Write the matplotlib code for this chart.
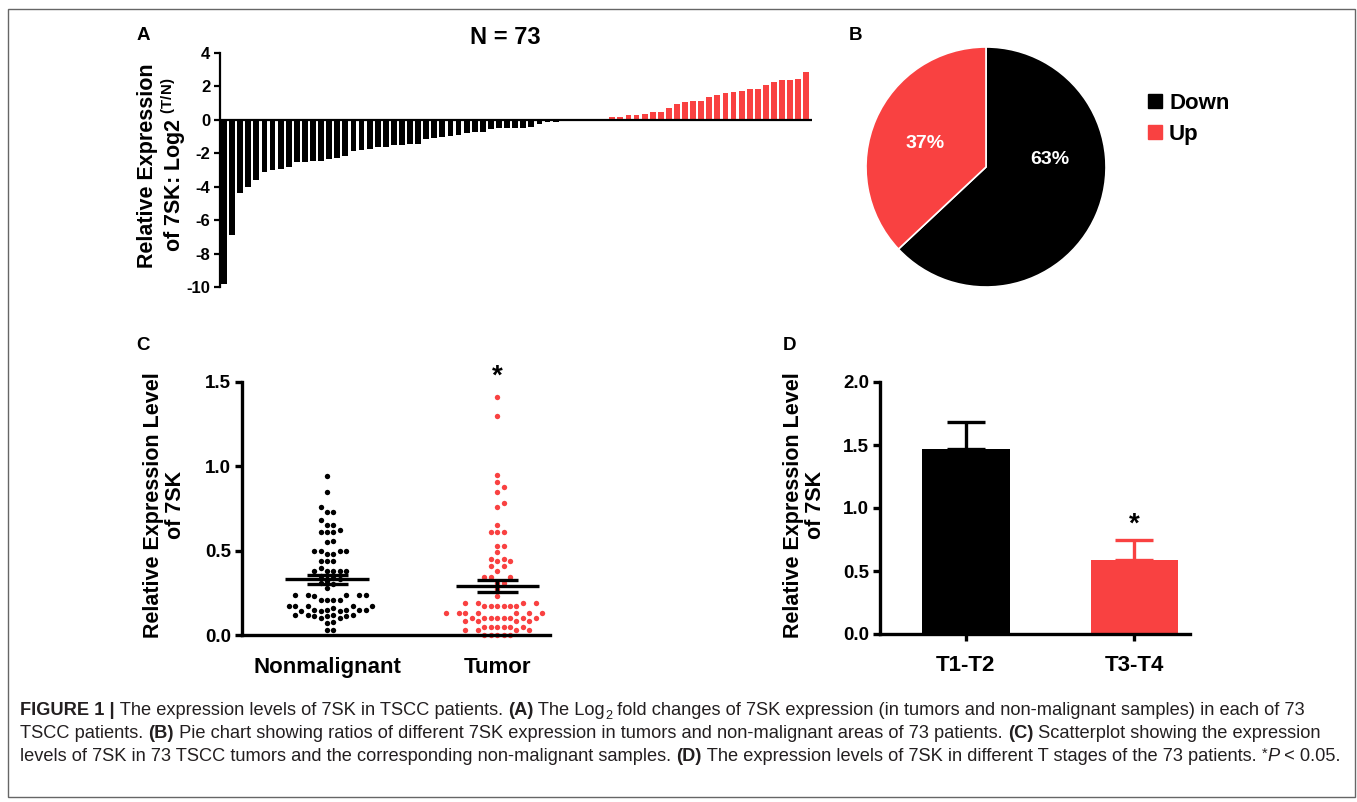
import numpy as np
import matplotlib
matplotlib.use('Agg')
import matplotlib.pyplot as plt
from matplotlib import font_manager
from matplotlib.lines import Line2D
from matplotlib.patches import Rectangle

# Panel A: log2 fold change (T/N) per patient, sorted
fold_down = [-9.8, -6.9, -4.4, -4.0, -3.6, -3.1, -3.0, -2.96, -2.84, -2.53,
             -2.53, -2.47, -2.47, -2.33, -2.27, -2.16, -1.86, -1.80, -1.73, -1.65,
             -1.63, -1.53, -1.53, -1.43, -1.43, -1.16, -1.08, -1.02, -0.98, -0.88,
             -0.76, -0.71, -0.71, -0.57, -0.51, -0.51, -0.51, -0.47, -0.41, -0.27,
             -0.14, -0.10, -0.06, -0.04, -0.02, -0.01]
fold_up = [0.01, 0.04, 0.16, 0.18, 0.27, 0.31, 0.35, 0.47, 0.49, 0.69,
           0.96, 1.06, 1.10, 1.10, 1.35, 1.51, 1.59, 1.65, 1.73, 1.84,
           1.86, 2.08, 2.29, 2.41, 2.41, 2.47, 2.88]

# Panel B
pie_labels = ['Down', 'Up']

# Panel C: relative expression per sample
nonmalignant = [0.94, 0.85, 0.76, 0.73, 0.73, 0.68, 0.65, 0.65, 0.62, 0.61,
                0.61, 0.61, 0.56, 0.55, 0.50, 0.50, 0.50, 0.50, 0.48, 0.48,
                0.44, 0.44, 0.44, 0.40, 0.38, 0.38, 0.38, 0.38, 0.38, 0.35,
                0.34, 0.33, 0.32, 0.31, 0.30, 0.28, 0.24, 0.24, 0.24, 0.24,
                0.24, 0.23, 0.21, 0.21, 0.21, 0.21, 0.17, 0.17, 0.17, 0.17,
                0.17, 0.16, 0.15, 0.15, 0.15, 0.15, 0.15, 0.14, 0.14, 0.14,
                0.12, 0.12, 0.12, 0.12, 0.11, 0.11, 0.11, 0.10, 0.10, 0.08,
                0.07, 0.03, 0.03]
tumor = [1.41, 1.30, 0.95, 0.91, 0.88, 0.85, 0.78, 0.76, 0.65, 0.61,
         0.61, 0.61, 0.53, 0.53, 0.49, 0.45, 0.45, 0.44, 0.44, 0.41,
         0.41, 0.38, 0.345, 0.345, 0.345, 0.31, 0.31, 0.27, 0.23, 0.19,
         0.19, 0.19, 0.19, 0.17, 0.17, 0.17, 0.17, 0.17, 0.17, 0.13,
         0.13, 0.13, 0.13, 0.13, 0.13, 0.13, 0.10, 0.10, 0.10, 0.10,
         0.10, 0.10, 0.10, 0.10, 0.085, 0.085, 0.085, 0.085, 0.05, 0.05,
         0.05, 0.05, 0.05, 0.05, 0.03, 0.03, 0.03, 0.03, 0.0, 0.0,
         0.0, 0.0, 0.0]
group_labels = ['Nonmalignant', 'Tumor']

# Panel D: T stage
stage_labels = ['T1-T2', 'T3-T4']
stage_means = [1.47, 0.59]
stage_err = [0.21, 0.16]

RED = '#F94141'
BLACK = '#000000'
W, H = 1357, 802

plt.rcParams['font.family'] = ['Liberation Sans', 'DejaVu Sans']
plt.rcParams['font.weight'] = 'bold'
plt.rcParams['axes.labelweight'] = 'bold'
plt.rcParams['axes.unicode_minus'] = False
plt.rcParams['mathtext.fontset'] = 'custom'
plt.rcParams['mathtext.rm'] = 'Liberation Sans'
plt.rcParams['mathtext.bf'] = 'Liberation Sans:bold'

fig = plt.figure(figsize=(W / 100, H / 100), dpi=100)


def box(l, t, r, b):
    # pixel box (left, top, right, bottom) -> figure fraction rect
    return [l / W, 1 - b / H, (r - l) / W, (b - t) / H]


def swarm(values, px_x, px_y, d):
    # greedy beeswarm, returns x offsets in data units
    vals = np.asarray(values)
    offs = np.zeros(len(vals))
    placed = []
    for i in np.argsort(vals):
        y = vals[i] * px_y
        k = 0
        while True:
            cand = ((k + 1) // 2) * d * (1 if k % 2 else -1)
            if all(np.hypot(cand - px, y - py) >= d for px, py in placed):
                break
            k += 1
        placed.append((cand, y))
        offs[i] = cand / px_x
    return offs


# ---------------- A ----------------
axA = fig.add_axes(box(220, 53, 812, 287))
fold = np.array(fold_down + fold_up)
idx = np.arange(len(fold))
axA.bar(idx, fold, width=0.72, color=[BLACK if v < 0 else RED for v in fold], linewidth=0)
axA.axhline(0, color='black', lw=1.6, zorder=3)
axA.set_xlim(-0.5, 72.7)
axA.set_ylim(-10, 4)
axA.set_yticks(range(-10, 5, 2))
for s in ['top', 'right', 'bottom']:
    axA.spines[s].set_visible(False)
axA.spines['left'].set_linewidth(1.6)
axA.set_xticks([])
axA.tick_params(axis='y', length=4, width=1.6, labelsize=12, pad=3)
axA.set_ylabel('Relative Expression\nof 7SK: Log2 $^{\\rm (T/N)}$', fontsize=15.5, linespacing=1.05)
axA.yaxis.set_label_coords(-0.054, 0.52)
fig.text(505 / W, 1 - 38 / H, 'N = 73', fontsize=17, ha='center', va='center')

# ---------------- B ----------------
axB = fig.add_axes(box(866, 47, 1106, 287))
counts = [int((fold < 0).sum()), int((fold > 0).sum())]
wedges, _, autot = axB.pie(counts, colors=[BLACK, RED], startangle=90, counterclock=False,
                           autopct='%.0f%%', pctdistance=0.55,
                           wedgeprops=dict(edgecolor='white', linewidth=1.2),
                           textprops=dict(color='white', fontsize=14, fontweight='bold'))
autot[0].set_position((0.53, 0.06))
autot[1].set_position((-0.51, 0.20))
axB.set_xlim(-1, 1)
axB.set_ylim(-1, 1)
handles = [Line2D([], [], marker='s', ls='', color=c, markersize=10) for c in [BLACK, RED]]
fig.legend(handles, pie_labels, loc='upper left', bbox_to_anchor=(1138 / W, 1 - 84 / H),
           frameon=False, fontsize=16, handlelength=0.7, handletextpad=0.3, labelspacing=0.45,
           borderaxespad=0)

# ---------------- C ----------------
axC = fig.add_axes(box(242, 382, 550, 635))
axC.set_xlim(-0.5, 1.31)
axC.set_ylim(0, 1.5)
for k, (vals, col) in enumerate(zip([nonmalignant, tumor], [BLACK, RED])):
    vals = np.array(vals)
    offs = swarm(vals, 170, 253 / 1.5, 6.4)
    axC.scatter(k + offs, vals, s=15, color=col, linewidths=0, clip_on=False, zorder=2)
    m = vals.mean()
    sem = vals.std(ddof=1) / np.sqrt(len(vals))
    axC.hlines(m, k - 0.245, k + 0.245, color='black', lw=2.4, zorder=3)
    axC.hlines([m - sem, m + sem], k - 0.12, k + 0.12, color='black', lw=2.4, zorder=3)
    axC.vlines(k, m - sem, m + sem, color='black', lw=2.4, zorder=3)
axC.text(1, 1.53, '*', fontsize=20, ha='center', va='center')
for s in ['top', 'right']:
    axC.spines[s].set_visible(False)
for s in ['left', 'bottom']:
    axC.spines[s].set_linewidth(2.4)
axC.set_yticks([0, 0.5, 1.0, 1.5])
axC.set_yticklabels(['0.0', '0.5', '1.0', '1.5'])
axC.set_xticks([0, 1])
axC.set_xticklabels(group_labels)
axC.tick_params(axis='y', length=5, width=2.4, labelsize=13.5, pad=3)
axC.tick_params(axis='x', length=0, labelsize=16, pad=16)
axC.set_ylabel('Relative Expression Level\nof 7SK', fontsize=15.5, linespacing=1.05)
axC.yaxis.set_label_coords(-0.182, 0.514)

# ---------------- D ----------------
axD = fig.add_axes(box(880, 382, 1190, 634))
axD.set_xlim(-0.51, 1.33)
axD.set_ylim(0, 2)
xs = np.arange(len(stage_labels))
axD.bar(xs, stage_means, width=0.52, color=[BLACK, RED], zorder=2)
for x, m, e, c in zip(xs, stage_means, stage_err, [BLACK, RED]):
    axD.errorbar(x, m, yerr=[[0], [e]], fmt='none', ecolor=c, elinewidth=2.4,
                 capsize=14, capthick=2.4, zorder=1)
axD.text(1, stage_means[1] + stage_err[1] + 0.12, '*', fontsize=20, ha='center', va='center')
for s in ['top', 'right']:
    axD.spines[s].set_visible(False)
for s in ['left', 'bottom']:
    axD.spines[s].set_linewidth(2.4)
axD.set_yticks([0, 0.5, 1.0, 1.5, 2.0])
axD.set_yticklabels(['0.0', '0.5', '1.0', '1.5', '2.0'])
axD.set_xticks(xs)
axD.set_xticklabels(stage_labels)
axD.tick_params(axis='y', length=5, width=2.4, labelsize=13.5, pad=3)
axD.tick_params(axis='x', length=5, width=2.4, labelsize=16, pad=10)
axD.set_ylabel('Relative Expression Level\nof 7SK', fontsize=15.5, linespacing=1.05)
axD.yaxis.set_label_coords(-0.174, 0.512)

# panel letters
for lab, (px, py) in zip('ABCD', [(143, 35), (855, 35), (143, 345), (790, 345)]):
    fig.text(px / W, 1 - py / H, lab, fontsize=13.5, ha='center', va='center')

# ---------------- caption ----------------
names = {f.name for f in font_manager.fontManager.ttflist}
cap_font = 'Liberation Sans Narrow' if 'Liberation Sans Narrow' in names else 'Liberation Sans'
B, R, SUB, SUP, IT = 'b', 'r', 'sub', 'sup', 'i'
caption = [
    [('FIGURE 1 |', B), (' The expression levels of 7SK in TSCC patients. ', R), ('(A)', B),
     (' The Log', R), ('2', SUB),
     (' fold changes of 7SK expression (in tumors and non-malignant samples) in each of 73', R)],
    [('TSCC patients. ', R), ('(B)', B),
     (' Pie chart showing ratios of different 7SK expression in tumors and non-malignant areas of 73 patients. ', R),
     ('(C)', B), (' Scatterplot showing the expression', R)],
    [('levels of 7SK in 73 TSCC tumors and the corresponding non-malignant samples. ', R), ('(D)', B),
     (' The expression levels of 7SK in different T stages of the 73 patients. ', R), ('*', SUP),
     ('P', IT), (' < 0.05.', R)],
]
renderer = fig.canvas.get_renderer()


def draw_line(segs, x0, base, size, draw=True):
    x = x0
    made = []
    for txt, st in segs:
        kw = dict(fontsize=size, family=cap_font, color='#231F20', va='baseline', ha='left',
                  fontweight='bold' if st == B else 'normal',
                  style='italic' if st == IT else 'normal')
        y = base
        if st == SUB:
            kw['fontsize'] = size * 0.7
            y = base + 4
        if st == SUP:
            kw['fontsize'] = size * 0.8
            y = base - 3
        t = fig.text(x / W, 1 - y / H, txt, **kw)
        x += t.get_window_extent(renderer).width
        made.append(t)
    if not draw:
        for t in made:
            t.remove()
    return x


end3 = draw_line(caption[2], 20, 0, 10, draw=False)
cap_size = 10 * (1346 - 20) / (end3 - 20)
for segs, base in zip(caption, [715, 738, 761]):
    draw_line(segs, 20, base, cap_size)

fig.patches.append(Rectangle((8 / W, 1 - 797 / H), (1355 - 8) / W, (797 - 9) / H,
                             transform=fig.transFigure, fill=False,
                             edgecolor='#666666', linewidth=1.0))

fig.savefig('out.png', dpi=100)
